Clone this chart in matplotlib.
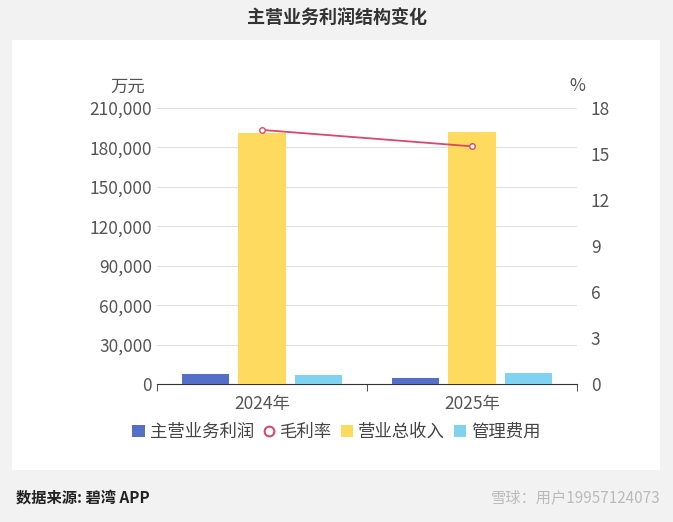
import numpy as np
import matplotlib.pyplot as plt
from matplotlib import patches
from matplotlib.lines import Line2D

plt.rcParams['font.family'] = ['Noto Sans CJK SC', 'DejaVu Sans']

years = ['2024年', '2025年']
profit = [7300, 4600]
revenue = [191000, 192000]
admin = [7000, 8000]
margin = [16.57, 15.5]

fig = plt.figure(figsize=(6.73, 5.22), dpi=100)
fig.patch.set_facecolor('#f2f2f2')
fig.add_artist(patches.Rectangle((12/673, 1-470/522), 648/673, 430/522,
                                 transform=fig.transFigure, facecolor='white', edgecolor='none', zorder=0))
fig.text(0.5, 1-18/522, '主营业务利润结构变化', ha='center', va='center', fontsize=13, fontweight='bold', color='#333333')
fig.text(16/673, 1-498/522, '数据来源: 碧湾 APP', ha='left', va='center', fontsize=11, fontweight='bold', color='#222222')
fig.text(660/673, 1-498/522, '雪球：用户19957124073', ha='right', va='center', fontsize=11, color='#bbbbbb')

ax = fig.add_axes([157/673, 1-384/522, 420/673, 276/522])
ax.set_facecolor('white')
x = np.arange(len(years))
w = 0.224
ax.bar(x - 0.27, profit, w, color='#5470c6', label='主营业务利润', zorder=3)
ax.bar(x, revenue, w, color='#fedb5f', label='营业总收入', zorder=3)
ax.bar(x + 0.27, admin, w, color='#7fd3f1', label='管理费用', zorder=3)
ax.set_xlim(-0.5, 1.5)
ax.set_ylim(0, 210000)
ax.set_yticks(np.arange(0, 210001, 30000))
ax.set_yticklabels([f'{v:,}' for v in range(0, 210001, 30000)])
ax.grid(axis='y', color='#e0e0e0', lw=0.8, zorder=0)
ax.set_xticks(x)
ax.set_xticklabels(years)
ax.set_xticks([-0.5, 0.5, 1.5], minor=True)
ax.tick_params(axis='x', which='major', length=0, labelsize=12.5, colors='#555555', pad=8)
ax.tick_params(axis='x', which='minor', length=5, color='#333333')
ax.tick_params(axis='y', length=0, labelsize=12.5, colors='#555555')
for s in ['top', 'right', 'left']:
    ax.spines[s].set_visible(False)
ax.spines['bottom'].set_color('#333333')
ax.text(-0.07, 1.06, '万元', transform=ax.transAxes, ha='center', fontsize=12.5, color='#555555')

ax2 = ax.twinx()
ax2.plot(x, margin, color='#d9486b', lw=1.3, marker='o', ms=4, mfc='white', mec='#d9486b', zorder=4)
ax2.set_ylim(0, 18)
ax2.set_yticks(np.arange(0, 19, 3))
ax2.tick_params(axis='y', length=0, labelsize=12.5, colors='#555555', pad=10)
for s in ['top', 'right', 'left', 'bottom']:
    ax2.spines[s].set_visible(False)
ax2.text(1.0, 1.06, '%', transform=ax.transAxes, ha='center', fontsize=12.5, color='#555555')

h1, l1 = ax.get_legend_handles_labels()
line_h = Line2D([], [], ls='none', marker='o', ms=7, mfc='white', mec='#d9486b', mew=1.5)
handles = [h1[0], line_h, h1[1], h1[2]]
labels = [l1[0], '毛利率', l1[1], l1[2]]
fig.legend(handles, labels, loc='center', bbox_to_anchor=(0.5, 1-432/522), ncol=4, frameon=False,
           fontsize=12.5, handlelength=0.7, handletextpad=0.3, columnspacing=0.5, labelcolor='#444444')

plt.savefig('out.png', dpi=100, facecolor=fig.get_facecolor())
